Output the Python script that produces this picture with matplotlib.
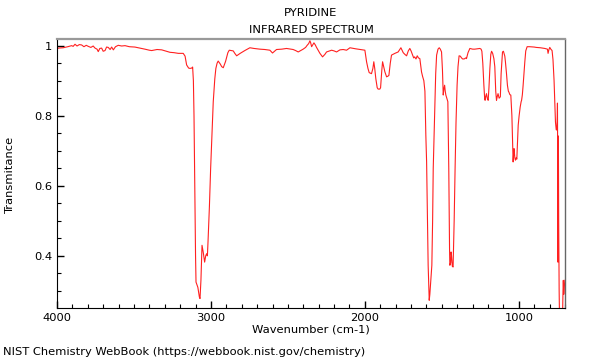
import matplotlib
matplotlib.use("Agg")
import matplotlib.pyplot as plt
from matplotlib.ticker import MultipleLocator, FuncFormatter

title = "PYRIDINE"
subtitle = "INFRARED SPECTRUM"
xlabel = "Wavenumber (cm-1)"
ylabel = "Transmitance"
footer = "NIST Chemistry WebBook (https://webbook.nist.gov/chemistry)"

wavenumber = [
    4000, 3992, 3960, 3930, 3905, 3895, 3883, 3870, 3855, 3840, 3825, 3810, 3797, 3780, 3765,
    3753, 3740, 3732, 3722, 3710, 3700, 3688, 3678, 3667, 3655, 3645, 3634, 3620, 3602, 3580,
    3558, 3530, 3494, 3460, 3429, 3400, 3385, 3350, 3320, 3290, 3266, 3240, 3212, 3180, 3168,
    3158, 3145, 3136, 3125, 3119, 3114, 3110, 3105, 3100, 3097, 3085, 3075, 3071, 3065, 3058,
    3050, 3041, 3034, 3028, 3023, 3019, 3010, 3002, 2993, 2985, 2975, 2968, 2960, 2953, 2940,
    2930, 2920, 2905, 2890, 2881, 2868, 2855, 2845, 2833, 2810, 2780, 2747, 2720, 2682, 2650,
    2617, 2600, 2585, 2574, 2540, 2509, 2466, 2450, 2433, 2401, 2385, 2375, 2365, 2357, 2352,
    2346, 2338, 2331, 2322, 2314, 2300, 2292, 2275, 2260, 2249, 2230, 2216, 2200, 2184, 2162,
    2141, 2119, 2097, 2060, 2030, 2000, 1989, 1980, 1972, 1957, 1948, 1942, 1936, 1929, 1920,
    1914, 1903, 1898, 1890, 1885, 1878, 1870, 1859, 1850, 1844, 1835, 1827, 1805, 1784, 1766,
    1751, 1740, 1729, 1718, 1708, 1700, 1690, 1683, 1677, 1668, 1660, 1652, 1643, 1632, 1625,
    1617, 1610, 1604, 1599, 1595, 1589, 1582, 1578, 1572, 1565, 1560, 1556, 1545, 1540, 1534,
    1525, 1517, 1510, 1502, 1496, 1491, 1487, 1482, 1478, 1474, 1468, 1461, 1455, 1450, 1448,
    1443, 1440, 1437, 1432, 1427, 1420, 1414, 1408, 1401, 1395, 1388, 1380, 1372, 1365, 1355,
    1345, 1340, 1330, 1318, 1300, 1286, 1270, 1253, 1245, 1240, 1234, 1227, 1222, 1219, 1215,
    1210, 1205, 1199, 1194, 1188, 1182, 1177, 1170, 1162, 1156, 1150, 1145, 1140, 1135, 1128,
    1120, 1115, 1106, 1100, 1091, 1087, 1080, 1074, 1068, 1065, 1058, 1052, 1045, 1037, 1034,
    1031, 1026, 1022, 1017, 1013, 1008, 1004, 998, 991, 985, 982, 977, 972, 966, 961,
    955, 946, 930, 900, 887, 860, 831, 814, 810, 805, 799, 792, 784, 778, 771,
    766, 762, 757, 753, 750, 749, 747, 746, 745, 743, 741, 738, 735, 725, 717,
    713, 711, 708, 705, 701,
]

transmittance = [
    0.990, 0.993, 0.994, 0.997, 1.000, 0.998, 1.004, 0.999, 1.003, 1.002, 0.997, 1.001, 0.998, 0.995, 0.999,
    0.993, 0.990, 0.983, 0.992, 0.993, 0.984, 0.986, 0.996, 0.995, 0.989, 0.996, 0.988, 0.997, 1.001, 0.999,
    1.000, 0.997, 0.996, 0.993, 0.990, 0.987, 0.986, 0.989, 0.988, 0.984, 0.981, 0.980, 0.978, 0.978, 0.970,
    0.945, 0.936, 0.935, 0.936, 0.939, 0.900, 0.800, 0.600, 0.400, 0.325, 0.310, 0.282, 0.278, 0.330, 0.430,
    0.410, 0.382, 0.400, 0.406, 0.400, 0.440, 0.540, 0.649, 0.750, 0.840, 0.905, 0.935, 0.950, 0.956, 0.948,
    0.940, 0.937, 0.955, 0.980, 0.987, 0.986, 0.985, 0.978, 0.971, 0.978, 0.986, 0.994, 0.992, 0.990, 0.989,
    0.987, 0.979, 0.985, 0.989, 0.990, 0.992, 0.989, 0.986, 0.982, 0.990, 0.995, 1.001, 1.006, 1.014, 1.008,
    0.997, 1.003, 1.008, 1.002, 0.995, 0.984, 0.978, 0.968, 0.975, 0.982, 0.985, 0.987, 0.985, 0.982, 0.988,
    0.989, 0.987, 0.994, 0.991, 0.989, 0.987, 0.954, 0.935, 0.923, 0.920, 0.935, 0.954, 0.935, 0.906, 0.880,
    0.876, 0.876, 0.880, 0.930, 0.954, 0.940, 0.925, 0.911, 0.913, 0.915, 0.950, 0.973, 0.978, 0.982, 0.994,
    0.980, 0.975, 0.971, 0.985, 0.992, 0.985, 0.973, 0.965, 0.968, 0.962, 0.971, 0.965, 0.963, 0.925, 0.912,
    0.900, 0.870, 0.744, 0.668, 0.554, 0.373, 0.273, 0.290, 0.330, 0.373, 0.500, 0.649, 0.840, 0.920, 0.973,
    0.990, 0.994, 0.990, 0.982, 0.930, 0.859, 0.875, 0.887, 0.870, 0.859, 0.850, 0.840, 0.650, 0.420, 0.373,
    0.380, 0.411, 0.400, 0.370, 0.368, 0.500, 0.649, 0.780, 0.887, 0.940, 0.971, 0.970, 0.965, 0.962, 0.962,
    0.965, 0.963, 0.980, 0.992, 0.990, 0.990, 0.991, 0.992, 0.990, 0.984, 0.950, 0.887, 0.850, 0.844, 0.855,
    0.863, 0.850, 0.844, 0.880, 0.935, 0.975, 0.984, 0.978, 0.963, 0.940, 0.870, 0.844, 0.855, 0.863, 0.850,
    0.854, 0.920, 0.982, 0.984, 0.970, 0.954, 0.920, 0.887, 0.870, 0.868, 0.860, 0.859, 0.800, 0.668, 0.690,
    0.706, 0.680, 0.673, 0.680, 0.676, 0.730, 0.773, 0.800, 0.825, 0.840, 0.844, 0.860, 0.887, 0.925, 0.954,
    0.985, 0.997, 0.997, 0.996, 0.995, 0.994, 0.992, 0.990, 0.978, 0.988, 0.995, 0.990, 0.986, 0.960, 0.900,
    0.830, 0.782, 0.760, 0.759, 0.800, 0.836, 0.600, 0.382, 0.742, 0.742, 0.500, 0.300, 0.200, 0.150, 0.200,
    0.300, 0.330, 0.290, 0.310, 0.330,
]

x_ticks = [4000, 3000, 2000, 1000]
y_ticks = [0.4, 0.6, 0.8, 1.0]

FS = 8.25
plt.rcParams['font.family'] = ['DejaVu Sans']
fig = plt.figure(figsize=(6, 3.6), dpi=100)
ax = fig.add_axes([57/600, 1-308/360, (565-57)/600, (308-39)/360])
ax.plot(wavenumber, transmittance, color='#ff2020', lw=0.8)
ax.set_xlim(4000, 700)
ax.set_ylim(0.251, 1.019)

ax.set_xticks(x_ticks)
ax.set_yticks(y_ticks)
ax.xaxis.set_minor_locator(MultipleLocator(100))
ax.yaxis.set_minor_locator(MultipleLocator(0.05))
ax.yaxis.set_major_formatter(FuncFormatter(lambda v, p: f"{v:g}"))
ax.tick_params(which='both', direction='in', labelsize=FS, top=False, right=False)
ax.tick_params(which='major', length=5, width=1)
ax.tick_params(which='minor', length=3, width=0.8)

ax.spines['top'].set_color('#999999')
ax.spines['top'].set_linewidth(1.6)
ax.spines['right'].set_color('#666666')
ax.spines['right'].set_linewidth(1)

ax.set_xlabel(xlabel, fontsize=FS, labelpad=1)
fig.text(10/600, 1-174/360, ylabel, ha='center', va='center', rotation=90, fontsize=FS)

fig.text(311/600, 1-13/360, title, ha='center', va='center', fontsize=FS)
fig.text(311/600, 1-30/360, subtitle, ha='center', va='center', fontsize=FS)
fig.text(3/600, 1-352/360, footer, ha='left', va='center', fontsize=FS)

fig.savefig("out.png", dpi=100)
